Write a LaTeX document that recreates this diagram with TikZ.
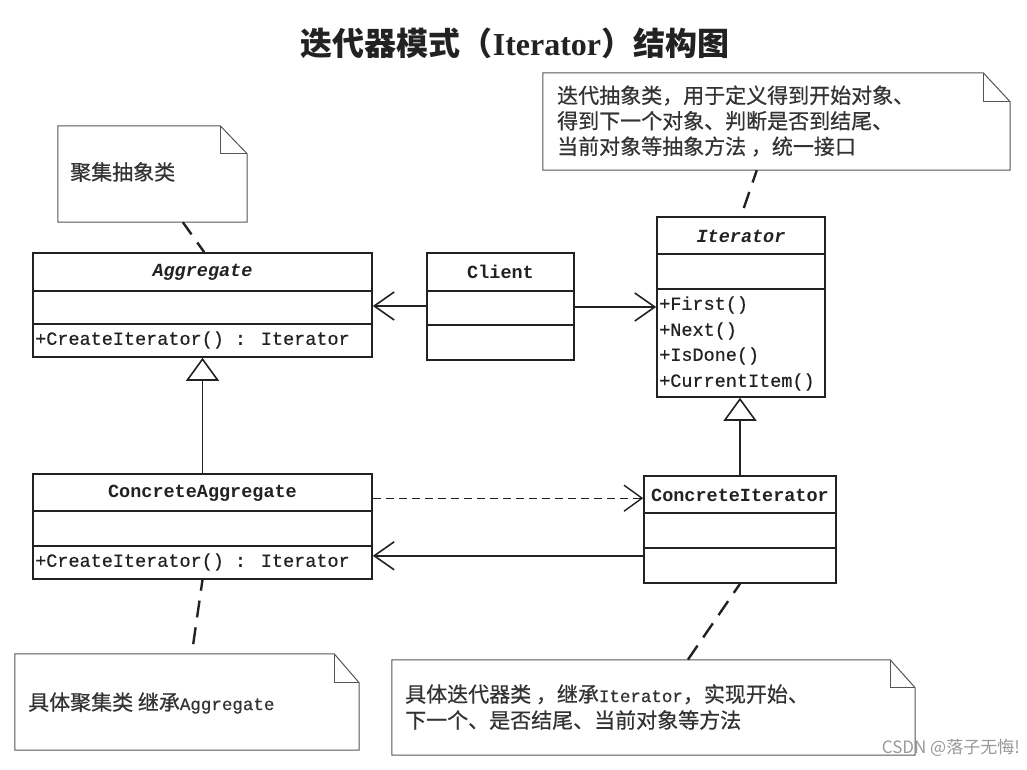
\documentclass[tikz,border=0pt]{standalone}
\usepackage{fontspec}
\setmainfont{Liberation Serif}
\newfontfamily\cjk{Noto Sans CJK SC}
\newfontfamily\cjkn[FakeBold=0.6]{Noto Sans CJK SC}
\newfontfamily\mono[FakeBold=0.5]{Liberation Mono}
\newfontfamily\monob{Liberation Mono}
\usetikzlibrary{arrows.meta,calc}
\definecolor{ink}{HTML}{222222}
\definecolor{notegray}{HTML}{555555}
\definecolor{txt}{HTML}{333333}
\tikzset{
  classbox/.style={draw=ink, line width=1.6pt, inner sep=0pt, fill=white},
  notebox/.style={draw=none, inner sep=0pt},
  notefold/.style={draw=notegray, line width=1pt},
  monotext/.style={font=\mono\fontsize{18.5}{22}\selectfont, text=ink, inner sep=0pt},
  titletext/.style={font=\monob\bfseries\fontsize{18.5}{22}\selectfont, text=ink, inner sep=0pt},
  notetext/.style={font=\cjkn\fontsize{21}{26}\selectfont, text=txt, inner sep=0pt, align=left},
  assoc/.style={draw=ink, line width=1.4pt, -{Straight Barb[length=20pt,width=28pt,line width=1.6pt]}},
  dep/.style={draw=ink, line width=1.3pt, dash pattern=on 8pt off 5pt, -{Straight Barb[length=18pt,width=26pt,line width=1.4pt]}},
  gen/.style={draw=ink, line width=1.4pt, -{Triangle[open,length=23pt,width=33pt,line width=1.6pt,fill=white]}},
  anchorline/.style={draw=ink, line width=2.4pt, dash pattern=on 17pt off 10pt},
}
\newcommand{\drawnote}[3]{% name, fold x, fold y
  \draw[notefold] (#1.north west) -- ($(#1.north east)+(-#2,0)$) -- ($(#1.north east)+(0,#3)$) -- (#1.south east) -- (#1.south west) -- cycle;
  \draw[notefold] ($(#1.north east)+(-#2,0)$) -- ($(#1.north east)+(-#2,#3)$) -- ($(#1.north east)+(0,#3)$);
}
\begin{document}
\begin{tikzpicture}[x=1pt,y=-1pt]
\useasboundingbox[fill=white] (0,0) rectangle (1027,770);

% title
\node[inner sep=0pt, text=ink] (title) at (515,43) {\fontsize{32}{36}\selectfont{\cjk\bfseries 迭代器模式（}{\bfseries Iterator}{\cjk\bfseries ）结构图}};

% notes
\node[notebox, minimum width=189pt, minimum height=96pt] (note1) at (152.5,174) {};
\drawnote{note1}{27}{28}
\node[notetext, anchor=west] (note1t) at (70,172) {聚集抽象类};

\node[notebox, minimum width=467pt, minimum height=97pt] (note2) at (776.5,121.5) {};
\drawnote{note2}{27}{29}
\node[notetext, anchor=west, font=\cjkn\fontsize{21}{25.5}\selectfont] (note2t) at (557,121) {迭代抽象类，用于定义得到开始对象、\\得到下一个对象、判断是否到结尾、\\当前对象等抽象方法 ，统一接口};

\node[notebox, minimum width=344pt, minimum height=96pt] (note3) at (187,702) {};
\drawnote{note3}{25}{29}
\node[notetext, anchor=west] (note3t) at (28,703) {具体聚集类 继承{\mono\fontsize{17.5}{22}\selectfont Aggregate}};

\node[notebox, minimum width=523pt, minimum height=95pt] (note4) at (653.5,707.5) {};
\drawnote{note4}{25}{28}
\node[notetext, anchor=west] (note4t) at (405,707) {具体迭代器类 ，继承{\mono\fontsize{17.5}{22}\selectfont Iterator}，实现开始、\\下一个、是否结尾、当前对象等方法};

% classes
\node[classbox, minimum width=339pt, minimum height=104pt] (agg) at (202.5,305) {};
\draw[ink, line width=1.6pt] ($(agg.north west)+(0,39)$) -- ($(agg.north east)+(0,39)$);
\draw[ink, line width=1.6pt] ($(agg.north west)+(0,72)$) -- ($(agg.north east)+(0,72)$);
\node[titletext, font=\monob\bfseries\itshape\fontsize{18.5}{22}\selectfont] (aggname) at (202.5,272) {Aggregate};
\node[monotext, anchor=west] (aggop) at (35,340) {+CreateIterator() : Iterator};

\node[classbox, minimum width=147pt, minimum height=107pt] (client) at (500.5,306.5) {};
\draw[ink, line width=1.6pt] ($(client.north west)+(0,39)$) -- ($(client.north east)+(0,39)$);
\draw[ink, line width=1.6pt] ($(client.north west)+(0,73)$) -- ($(client.north east)+(0,73)$);
\node[titletext] (clientname) at (500.5,272) {Client};

\node[classbox, minimum width=168pt, minimum height=180pt] (iter) at (741,307) {};
\draw[ink, line width=1.6pt] ($(iter.north west)+(0,38)$) -- ($(iter.north east)+(0,38)$);
\draw[ink, line width=1.6pt] ($(iter.north west)+(0,73)$) -- ($(iter.north east)+(0,73)$);
\node[titletext, font=\monob\bfseries\itshape\fontsize{18.5}{22}\selectfont] (itername) at (741,236) {Iterator};
\node[monotext, anchor=west] (m1) at (659,305) {+First()};
\node[monotext, anchor=west] (m2) at (659,331) {+Next()};
\node[monotext, anchor=west] (m3) at (659,356) {+IsDone()};
\node[monotext, anchor=west] (m4) at (659,382) {+CurrentItem()};

\node[classbox, minimum width=339pt, minimum height=105pt] (cagg) at (202.5,526.5) {};
\draw[ink, line width=1.6pt] ($(cagg.north west)+(0,38)$) -- ($(cagg.north east)+(0,38)$);
\draw[ink, line width=1.6pt] ($(cagg.north west)+(0,73)$) -- ($(cagg.north east)+(0,73)$);
\node[titletext] (caggname) at (202.5,493) {ConcreteAggregate};
\node[monotext, anchor=west] (caggop) at (35,562) {+CreateIterator() : Iterator};

\node[classbox, minimum width=192pt, minimum height=107pt] (citer) at (740,529.5) {};
\draw[ink, line width=1.6pt] ($(citer.north west)+(0,38)$) -- ($(citer.north east)+(0,38)$);
\draw[ink, line width=1.6pt] ($(citer.north west)+(0,73)$) -- ($(citer.north east)+(0,73)$);
\node[titletext] (citername) at (740,495) {ConcreteIterator};

% connectors
\draw[assoc] (client.west |- 0,306) -- (agg.east |- 0,306);
\draw[assoc] (client.east |- 0,307) -- (iter.west |- 0,307);
\draw[gen] (cagg.north) -- (agg.south);
\draw[gen] (citer.north) -- (citer.north |- iter.south);
\coordinate (depstart) at ($(cagg.north east)+(0,25)$);
\draw[dep] (depstart) -- (depstart -| citer.west);
\coordinate (backstart) at ($(citer.south west)+(0,-28)$);
\draw[assoc] (backstart) -- (backstart -| cagg.east);

% note anchors
\draw[anchorline, dash phase=2pt] ($(note1.south west)+(125,0)$) -- ($(agg.north west)+(172,0)$);
\draw[anchorline, dash phase=4pt] ($(note2.south west)+(214,0)$) -- (iter.north);
\draw[anchorline, dash phase=6pt] (cagg.south) -- ($(note3.north west)+(177,0)$);
\draw[anchorline, dash phase=6pt] (citer.south) -- ($(note4.north west)+(296,0)$);

% watermark
\node[inner sep=0pt, anchor=east, text=black!40, font=\cjk\fontsize{17}{20}\selectfont] (wm) at (1020,748) {CSDN @落子无悔!};
\end{tikzpicture}
\end{document}
